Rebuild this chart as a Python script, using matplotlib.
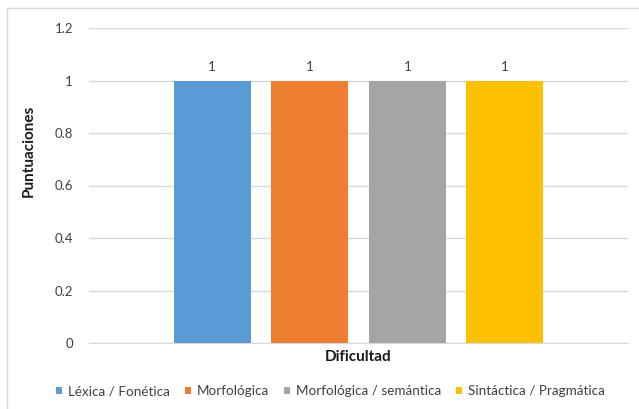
import matplotlib
matplotlib.use("Agg")
import matplotlib.pyplot as plt
from matplotlib.patches import Rectangle
import numpy as np

categories = ["Dificultad"]
series = ["Léxica / Fonética", "Morfológica", "Morfológica / semántica", "Sintáctica / Pragmática"]
values = [1, 1, 1, 1]
colors = ["#5b9bd5", "#ed7d31", "#a5a5a5", "#ffc000"]
yticks = [0, 0.2, 0.4, 0.6, 0.8, 1, 1.2]
ytick_labels = ["0", "0.2", "0.4", "0.6", "0.8", "1", "1.2"]

plt.rcParams['font.family'] = ['Lato', 'DejaVu Sans']

W, H = 639, 409
fig = plt.figure(figsize=(W / 100, H / 100), dpi=100)
fig.patches.append(Rectangle((7 / W, -0.05), 1.1, 1 - 8 / H + 0.05, transform=fig.transFigure,
                             fill=False, edgecolor="#d9d9d9", linewidth=1.0, clip_on=False))
ax = fig.add_axes([89 / W, 1 - 343 / H, 539 / W, 315 / H])

spacing = 0.181
width = 0.143
for i, (s, v, c) in enumerate(zip(series, values, colors)):
    x = (i - 1.5) * spacing
    ax.bar(x, v, width=width, color=c, label=s, zorder=3)
    ax.text(x, v + 0.03, f"{v:g}", ha="center", va="bottom", fontsize=9.5, color="#404040")

ax.set_xlim(-0.5, 0.5)
ax.set_ylim(0, 1.2)
ax.set_yticks(yticks)
ax.set_yticklabels(ytick_labels, fontsize=9.5, color="#404040")
ax.set_xticks([])
ax.tick_params(axis="y", length=0, pad=11.5)
ax.grid(axis="y", color="#d9d9d9", linewidth=1.0, zorder=0)
for sp in ["top", "right", "left"]:
    ax.spines[sp].set_visible(False)
ax.spines["bottom"].set_color("#d9d9d9")

ax.set_xlabel("Dificultad", fontsize=11, fontweight="bold", color="#1a1a1a")
ax.xaxis.set_label_coords(0.5, -(357 - 343) / 315)
ax.xaxis.label.set_va("center")
ax.set_ylabel("Puntuaciones", fontsize=11, fontweight="bold", color="#1a1a1a")
ax.yaxis.set_label_coords((29 - 89) / 539, (343 - 151) / 315)
ax.yaxis.label.set_va("center")

fig.legend(loc="center", bbox_to_anchor=(330.5 / W, 1 - 391 / H), ncol=4, frameon=False,
           fontsize=9.75, handlelength=0.45, handleheight=0.45, handletextpad=0.45,
           columnspacing=1.1, labelcolor="#404040", borderaxespad=0, borderpad=0)

fig.savefig("out.png", dpi=100)
